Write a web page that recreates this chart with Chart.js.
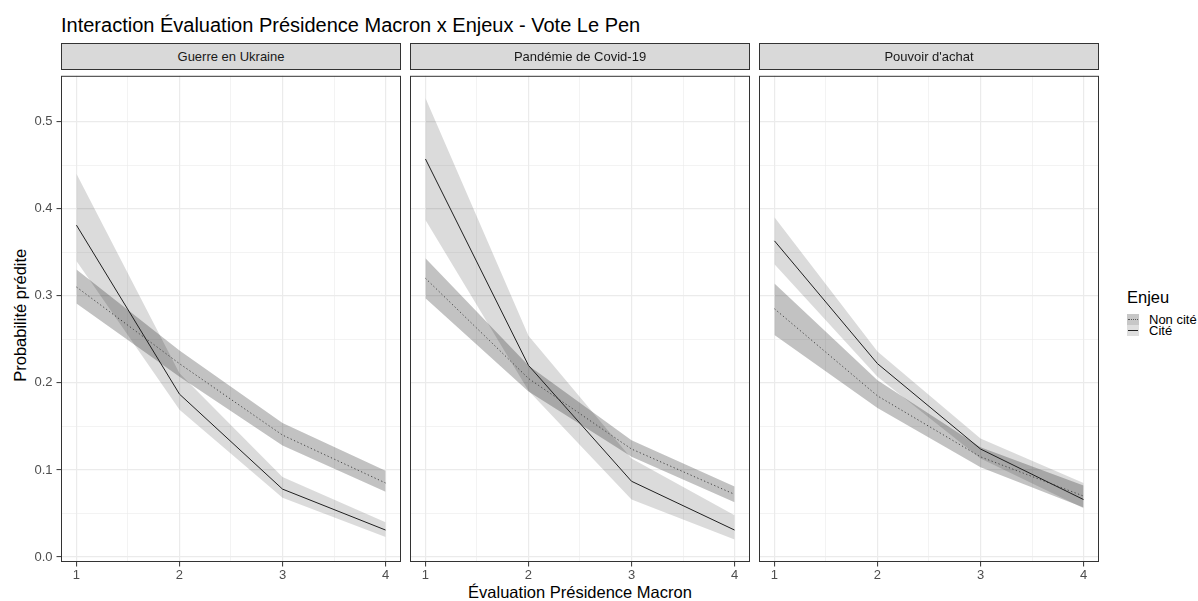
<!DOCTYPE html>
<html lang="fr">
<head>
<meta charset="utf-8">
<title>Interaction Évaluation Présidence Macron x Enjeux - Vote Le Pen</title>
<script src="https://cdn.jsdelivr.net/npm/chart.js"></script>
<style>
  html, body { margin: 0; padding: 0; background: #fff; }
  #figure {
    position: relative;
    width: 1198px;
    height: 601px;
    overflow: hidden;
    font-family: 'Liberation Sans', Arial, Helvetica, sans-serif;
    color: #000;
  }
  #figure canvas { position: absolute; }
  .txt { position: absolute; white-space: nowrap; }
  .plot-title { left: 61px; top: 15px; font-size: 20px; line-height: 20px; }
  .strip {
    position: absolute;
    top: 43px;
    height: 27px;
    box-sizing: border-box;
    background: #d9d9d9;
    border: 1px solid #333;
  }
  .strip span {
    position: absolute; left: 0; right: 0; top: 6px;
    text-align: center; font-size: 13px; line-height: 13px; color: #1a1a1a;
  }
  .x-title { left: 61px; width: 1038px; top: 584px; text-align: center; font-size: 16.5px; line-height: 16.5px; }
  .y-title {
    left: -130px; top: 307px; width: 300px; text-align: center;
    font-size: 16.5px; line-height: 16.5px; transform: rotate(-90deg);
  }
  .legend-title { left: 1127px; top: 289px; font-size: 16.5px; line-height: 16.5px; }
  .key { position: absolute; left: 1127px; width: 12px; height: 11px; }
  .key i { position: absolute; left: 1px; right: 1px; top: 5px; height: 0; }
  .key-label { left: 1149px; font-size: 13px; line-height: 13px; }
</style>
</head>
<body>
<div id="figure">
  <div class="txt plot-title">Interaction Évaluation Présidence Macron x Enjeux - Vote Le Pen</div>
  <div class="txt y-title">Probabilité prédite</div>
  <div class="txt x-title">Évaluation Présidence Macron</div>

  <div class="txt legend-title">Enjeu</div>
  <div class="key" style="top:314px;background:#c7c7c7"><i style="border-top:1px dotted #555"></i></div>
  <div class="key" style="top:325px;background:#dedede"><i style="border-top:1px solid #222"></i></div>
  <div class="txt key-label" style="top:313px">Non cité</div>
  <div class="txt key-label" style="top:324px">Cité</div>
</div>

<script>
// x : évaluation de la présidence (1 à 4)
const evalLevels = [1, 2, 3, 4];
const facetLabels = ['Guerre en Ukraine', 'Pandémie de Covid-19', "Pouvoir d'achat"];
const xGrid = [1, 1.5, 2, 2.5, 3, 3.5, 4];
const yGrid = [0, 0.05, 0.1, 0.15, 0.2, 0.25, 0.3, 0.35, 0.4, 0.45, 0.5];

// Guerre en Ukraine
const ukraineNonCite = [0.310, 0.222, 0.140, 0.085];
const ukraineNonCiteLow = [0.291, 0.207, 0.128, 0.075];
const ukraineNonCiteHigh = [0.330, 0.237, 0.154, 0.099];
const ukraineCite = [0.381, 0.187, 0.078, 0.031];
const ukraineCiteLow = [0.340, 0.169, 0.068, 0.023];
const ukraineCiteHigh = [0.440, 0.211, 0.092, 0.040];

// Pandémie de Covid-19
const covidNonCite = [0.320, 0.205, 0.124, 0.072];
const covidNonCiteLow = [0.297, 0.190, 0.115, 0.063];
const covidNonCiteHigh = [0.343, 0.220, 0.134, 0.081];
const covidCite = [0.457, 0.220, 0.087, 0.031];
const covidCiteLow = [0.387, 0.191, 0.066, 0.020];
const covidCiteHigh = [0.527, 0.254, 0.113, 0.048];

// Pouvoir d'achat
const pouvoirNonCite = [0.285, 0.185, 0.115, 0.070];
const pouvoirNonCiteLow = [0.255, 0.171, 0.103, 0.057];
const pouvoirNonCiteHigh = [0.314, 0.203, 0.126, 0.082];
const pouvoirCite = [0.363, 0.222, 0.124, 0.066];
const pouvoirCiteLow = [0.336, 0.207, 0.113, 0.056];
const pouvoirCiteHigh = [0.390, 0.236, 0.136, 0.085];

const facets = [
	{ nonCite: ukraineNonCite, nonCiteLow: ukraineNonCiteLow, nonCiteHigh: ukraineNonCiteHigh,
	  cite: ukraineCite, citeLow: ukraineCiteLow, citeHigh: ukraineCiteHigh },
	{ nonCite: covidNonCite, nonCiteLow: covidNonCiteLow, nonCiteHigh: covidNonCiteHigh,
	  cite: covidCite, citeLow: covidCiteLow, citeHigh: covidCiteHigh },
	{ nonCite: pouvoirNonCite, nonCiteLow: pouvoirNonCiteLow, nonCiteHigh: pouvoirNonCiteHigh,
	  cite: pouvoirCite, citeLow: pouvoirCiteLow, citeHigh: pouvoirCiteHigh },
];

const figure = document.getElementById('figure');
const panelLefts = [61, 410, 759];
const panelWidth = 340;
const panelTop = 69;
const panelHeight = 493;
const yAxisWidth = 61;
const xAxisHeight = 30;
const pad = 5;

Chart.defaults.font.family = "'Liberation Sans', Arial, Helvetica, sans-serif";

function toPoints(values) {
	return evalLevels.map((x, i) => ({ x: x, y: values[i] }));
}

function isMajorX(v) {
	return Math.abs(v - Math.round(v)) < 1e-6;
}

function isMajorY(v) {
	return Math.abs(v * 10 - Math.round(v * 10)) < 1e-6;
}

const panelBorder = {
	id: 'panelBorder',
	afterDraw(chart) {
		const { ctx, chartArea } = chart;
		ctx.save();
		ctx.strokeStyle = '#333333';
		ctx.lineWidth = 1;
		ctx.strokeRect(chartArea.left + 0.5, chartArea.top + 0.5,
			chartArea.right - chartArea.left - 1, chartArea.bottom - chartArea.top - 1);
		ctx.restore();
	},
};

function bandDataset(values, fillTarget, color, order) {
	return {
		data: toPoints(values),
		borderWidth: 0,
		borderColor: 'transparent',
		backgroundColor: color,
		pointRadius: 0,
		fill: fillTarget,
		order: order,
	};
}

function renderPanel(facet, index) {
	// bandeau du facet
	const strip = document.createElement('div');
	strip.className = 'strip';
	strip.style.left = panelLefts[index] + 'px';
	strip.style.width = panelWidth + 'px';
	strip.innerHTML = '<span></span>';
	strip.firstChild.textContent = facetLabels[index];
	figure.appendChild(strip);

	const canvas = document.createElement('canvas');
	const w = yAxisWidth + panelWidth + pad;
	const h = pad + panelHeight + xAxisHeight;
	canvas.width = w;
	canvas.height = h;
	canvas.style.width = w + 'px';
	canvas.style.height = h + 'px';
	canvas.style.left = (panelLefts[index] - yAxisWidth) + 'px';
	canvas.style.top = (panelTop - pad) + 'px';
	figure.appendChild(canvas);

	const showY = index === 0;

	return new Chart(canvas, {
		type: 'line',
		data: {
			datasets: [
				{
					label: 'Cité',
					data: toPoints(facet.cite),
					borderColor: '#1f1f1f',
					borderWidth: 1,
					pointRadius: 0,
					fill: false,
					order: 0,
				},
				{
					label: 'Non cité',
					data: toPoints(facet.nonCite),
					borderColor: '#4a4a4a',
					borderWidth: 1,
					borderDash: [1.3, 2.4],
					pointRadius: 0,
					fill: false,
					order: 0,
				},
				bandDataset(facet.citeHigh, 3, 'rgba(0,0,0,0.14)', 1),
				bandDataset(facet.citeLow, false, 'transparent', 1),
				bandDataset(facet.nonCiteHigh, 5, 'rgba(0,0,0,0.24)', 2),
				bandDataset(facet.nonCiteLow, false, 'transparent', 2),
			],
		},
		options: {
			responsive: false,
			animation: false,
			events: [],
			layout: { padding: { top: pad, right: pad, left: 0, bottom: 0 } },
			plugins: {
				legend: { display: false },
				tooltip: { enabled: false },
			},
			scales: {
				x: {
					type: 'linear',
					min: 0.85,
					max: 4.15,
					afterBuildTicks: (axis) => {
						axis.ticks = xGrid.map((v) => ({ value: v }));
					},
					afterFit: (axis) => {
						axis.height = xAxisHeight;
					},
					border: { display: false },
					grid: {
						color: '#ebebeb',
						lineWidth: (ctx) => (isMajorX(ctx.tick.value) ? 1.2 : 0.6),
						tickColor: (ctx) => (isMajorX(ctx.tick.value) ? '#333333' : 'transparent'),
						tickLength: 4.5,
						tickWidth: 1,
					},
					ticks: {
						autoSkip: false,
						maxRotation: 0,
						padding: 1,
						color: '#4d4d4d',
						font: { size: 13 },
						callback: (v) => (isMajorX(v) ? String(v) : ''),
					},
				},
				y: {
					type: 'linear',
					min: -0.0057,
					max: 0.5525,
					afterBuildTicks: (axis) => {
						axis.ticks = yGrid.map((v) => ({ value: v }));
					},
					afterFit: (axis) => {
						axis.width = yAxisWidth;
					},
					border: { display: false },
					grid: {
						color: '#ebebeb',
						lineWidth: (ctx) => (isMajorY(ctx.tick.value) ? 1.2 : 0.6),
						tickColor: (ctx) =>
							(showY && isMajorY(ctx.tick.value) ? '#333333' : 'transparent'),
						tickLength: 4.5,
						tickWidth: 1,
					},
					ticks: {
						autoSkip: false,
						padding: 4,
						color: '#4d4d4d',
						font: { size: 13 },
						callback: (v) => (showY && isMajorY(v) ? v.toFixed(1) : ''),
					},
				},
			},
		},
		plugins: [panelBorder],
	});
}

facets.forEach(renderPanel);
</script>
</body>
</html>
